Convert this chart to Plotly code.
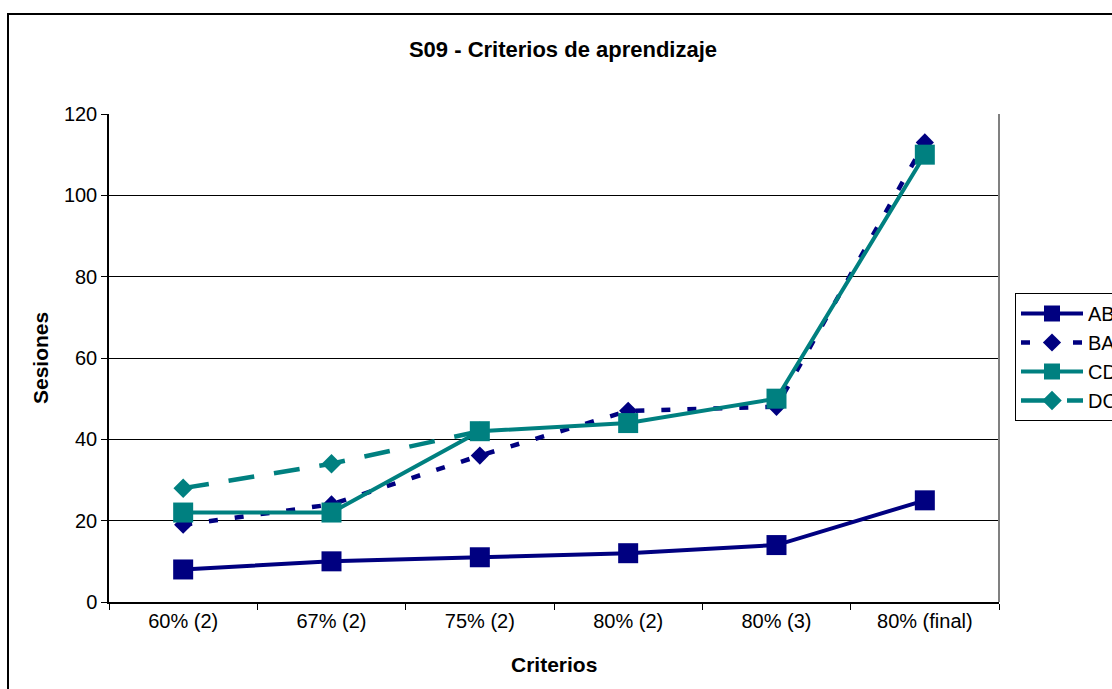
import plotly.graph_objects as go

categories = ["60% (2)", "67% (2)", "75% (2)", "80% (2)", "80% (3)", "80% (final)"]
ab = [8, 10, 11, 12, 14, 25]
ba = [19, 24, 36, 47, 48, 113]
cd = [22, 22, 42, 44, 50, 110]
dc = [28, 34, 42, None, None, None]
y_ticks = [0, 20, 40, 60, 80, 100, 120]

NAVY = "#000080"
TEAL = "#008080"
FONT = "Liberation Sans, Arial, sans-serif"

fig = go.Figure()
fig.add_trace(go.Scatter(x=categories, y=ab, name="AB", mode="lines+markers",
                         line=dict(color=NAVY, width=4),
                         marker=dict(symbol="square", size=20, color=NAVY)))
fig.add_trace(go.Scatter(x=categories, y=ba, name="BA", mode="lines+markers",
                         line=dict(color=NAVY, width=4.5, dash="9px,17px"),
                         marker=dict(symbol="diamond", size=14, color=NAVY)))
fig.add_trace(go.Scatter(x=categories, y=cd, name="CD", mode="lines+markers",
                         line=dict(color=TEAL, width=4),
                         marker=dict(symbol="square", size=20, color=TEAL)))
fig.add_trace(go.Scatter(x=categories, y=dc, name="DC", mode="lines+markers",
                         line=dict(color=TEAL, width=4.5, dash="26px,20px"),
                         marker=dict(symbol="diamond", size=15, color=TEAL)))

fig.update_layout(
    width=1112, height=689,
    margin=dict(l=109, r=113, t=114, b=87, autoexpand=False),
    paper_bgcolor="white", plot_bgcolor="white",
    font=dict(family=FONT, size=20, color="black"),
    title=dict(text="<b>S09 - Criterios de aprendizaje</b>", font=dict(size=22, family=FONT, color="black"),
               xref="container", x=563/1112, xanchor="center",
               yref="container", y=1-49/689, yanchor="middle"),
    showlegend=True,
    legend=dict(x=(1015-109)/890, xanchor="left", y=(602-293)/488, yanchor="top",
                bgcolor="white", bordercolor="black", borderwidth=1,
                font=dict(size=20, family=FONT, color="black"),
                itemwidth=62, tracegroupgap=0),
    xaxis=dict(type="category", range=[-0.5, 5.5], showgrid=False, tickson="boundaries",
               ticks="outside", ticklen=6, tickcolor="black", tickwidth=1,
               showline=True, linecolor="black", linewidth=1.5, zeroline=False,
               tickfont=dict(size=20, color="black")),
    yaxis=dict(range=[0, 120], tickvals=y_ticks, showgrid=True, gridcolor="black", gridwidth=1,
               ticks="outside", ticklen=6, tickcolor="black", tickwidth=1,
               showline=True, linecolor="black", linewidth=1.5, zeroline=False,
               tickfont=dict(size=20, color="black")),
    shapes=[
        dict(type="line", xref="paper", yref="paper", x0=1, x1=1, y0=0, y1=1,
             line=dict(color="#808080", width=2)),
        dict(type="rect", xref="paper", yref="paper",
             x0=(8-109)/890, x1=(1125-109)/890, y0=(602-700)/488, y1=(602-14)/488,
             line=dict(color="black", width=2), layer="below"),
    ],
    annotations=[
        dict(text="<b>Criterios</b>", xref="paper", yref="paper", x=0.5, y=(602-664)/488,
             xanchor="center", yanchor="middle", showarrow=False,
             font=dict(size=21, family=FONT, color="black")),
        dict(text="<b>Sesiones</b>", xref="paper", yref="paper", x=(40-109)/890, y=0.5,
             xanchor="center", yanchor="middle", textangle=-90, showarrow=False,
             font=dict(size=21, family=FONT, color="black")),
    ],
)

fig.write_html("out.html", config={"displayModeBar": False},
               post_script="document.body.style.margin='0';document.body.style.overflow='hidden';")
